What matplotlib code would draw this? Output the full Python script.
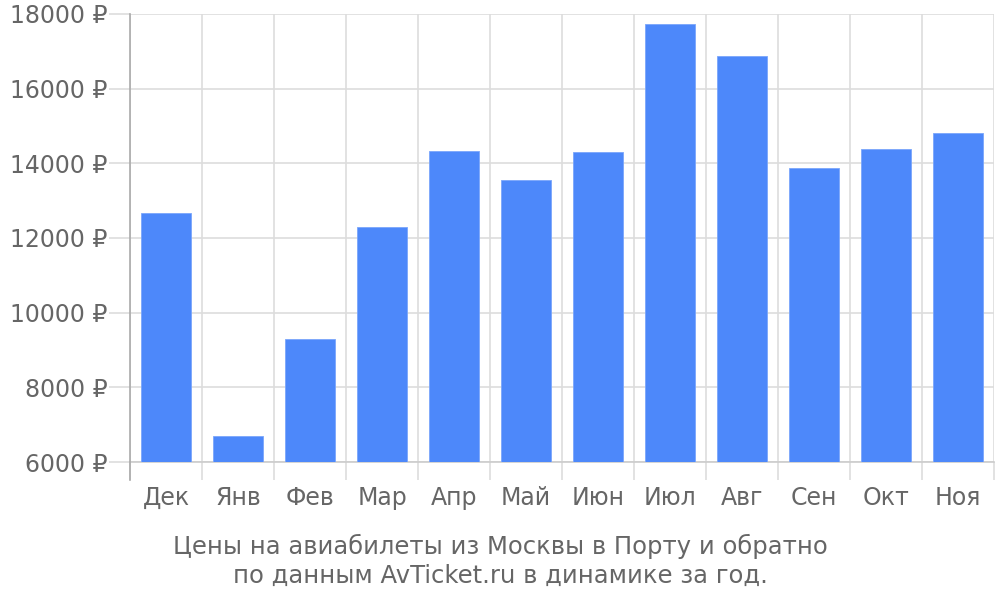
import matplotlib.pyplot as plt
import numpy as np

months = ["Дек", "Янв", "Фев", "Мар", "Апр", "Май", "Июн", "Июл", "Авг", "Сен", "Окт", "Ноя"]
prices = [12670, 6700, 9300, 12300, 14330, 13560, 14300, 17730, 16880, 13880, 14380, 14810]
yticks = [6000, 8000, 10000, 12000, 14000, 16000, 18000]
caption = "Цены на авиабилеты из Москвы в Порту и обратно\nпо данным AvTicket.ru в динамике за год."

text_color = "#666666"
grid_color = "#dddddd"
bar_color = "#4d88fa"

fig = plt.figure(figsize=(10, 6), dpi=100)
ax = fig.add_axes([0.13, 0.23, 0.864, 0.7467])

x = np.arange(len(months))
base = yticks[0]
ax.bar(x, np.array(prices) - base, bottom=base, width=0.7,
       color=bar_color, edgecolor="#7aa6fb", linewidth=0.6, zorder=3)

ax.set_xlim(-0.5, len(months) - 0.5)
ax.set_ylim(yticks[0], yticks[-1])

ax.set_xticks(x)
ax.set_xticklabels(months)
ax.set_xticks(np.arange(-0.5, len(months)), minor=True)
ax.tick_params(axis="x", which="major", length=0, pad=17, labelsize=17, labelcolor=text_color)
ax.tick_params(axis="x", which="minor", length=13, width=1.2, color=grid_color)

ax.set_yticks(yticks)
ax.set_yticklabels([f"{v} ₽" for v in yticks])
ax.tick_params(axis="y", length=15, width=1.2, color=grid_color, pad=1,
               labelsize=17, labelcolor=text_color)

ax.grid(True, which="minor", axis="x", color=grid_color, linewidth=1.2, zorder=0)
ax.grid(True, which="major", axis="y", color=grid_color, linewidth=1.2, zorder=0)

for side in ["top", "right", "left"]:
    ax.spines[side].set_visible(False)
ax.spines["bottom"].set_color("#cccccc")
ax.spines["bottom"].set_linewidth(1.2)
# left axis line, running down past the baseline like the category ticks
ax.axvline(-0.5, ymin=-0.04, ymax=1, color="#aaaaaa", linewidth=1.2,
           clip_on=False, zorder=4)

fig.text(0.5, 0.065, caption, ha="center", va="center", fontsize=17.5,
         color=text_color, linespacing=1.22)

fig.savefig("out.png", dpi=100)
